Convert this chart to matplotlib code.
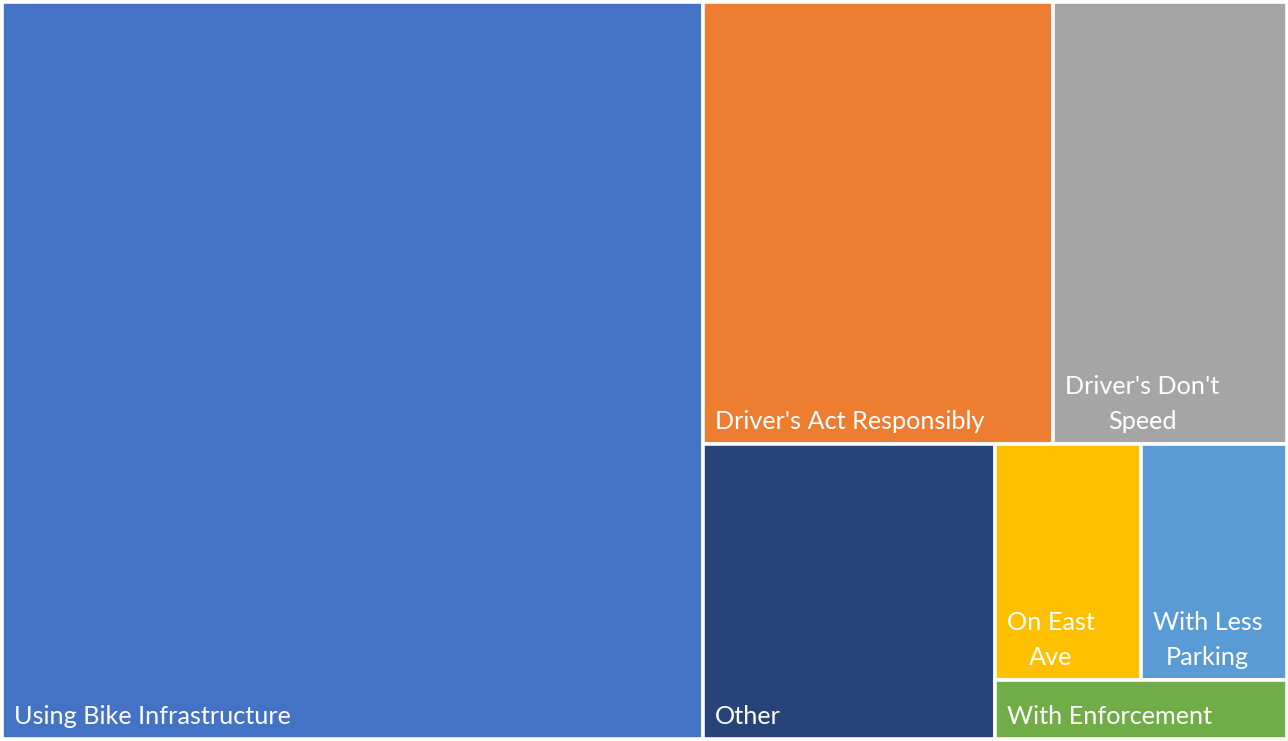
import matplotlib
matplotlib.use("Agg")
import matplotlib.pyplot as plt
from matplotlib.patches import Rectangle

# ---- data ----
labels = ["Using Bike Infrastructure", "Driver's Act Responsibly", "Driver's Don't\nSpeed",
          "Other", "On East\nAve", "With Less\nParking", "With Enforcement"]
values = [30, 9, 6, 5, 2, 2, 1]
colors = ["#4472C4", "#ED7D31", "#A5A5A5", "#264478", "#FFC000", "#5B9BD5", "#70AD47"]

W, H = 1288, 741


def worst(row, length):
    s = sum(row)
    return max(max(length * length * r / (s * s), (s * s) / (length * length * r)) for r in row)


def squarify(vals, x, y, w, h):
    """Squarified treemap; y grows downward. Returns list of (x, y, w, h)."""
    total = sum(vals)
    areas = [v / total * w * h for v in vals]
    rects = []
    i = 0
    while i < len(areas):
        short = min(w, h)
        row = [areas[i]]
        j = i + 1
        while j < len(areas) and worst(row + [areas[j]], short) <= worst(row, short):
            row.append(areas[j])
            j += 1
        s = sum(row)
        if w >= h:  # column on the left
            cw = s / h
            cy = y
            for a in row:
                rh = a / cw
                rects.append((x, cy, cw, rh))
                cy += rh
            x += cw
            w -= cw
        else:  # row on the top
            rh = s / w
            cx = x
            for a in row:
                rw = a / rh
                rects.append((cx, y, rw, rh))
                cx += rw
            y += rh
            h -= rh
        i = j
    return rects


fig = plt.figure(figsize=(W / 100, H / 100), dpi=100)
ax = fig.add_axes([0, 0, 1, 1])
ax.set_xlim(0, W)
ax.set_ylim(H, 0)
ax.axis("off")

# thin outer frame
ax.add_patch(Rectangle((0.5, 0.5), W - 1, H - 1, fill=False, edgecolor="#D9D9D9", lw=1))

rects = squarify(values, 2, 2, W - 3, H - 4)
for (rx, ry, rw, rh), lab, col in zip(rects, labels, colors):
    ax.add_patch(Rectangle((rx, ry), rw, rh, facecolor=col, edgecolor="white", lw=2.6))
    ax.text(rx + 12, ry + rh - 11, lab, color="white", fontsize=18.2, family="Lato",
            ha="left", va="bottom", multialignment="center", linespacing=1.62)

fig.savefig("out.png", dpi=100)
